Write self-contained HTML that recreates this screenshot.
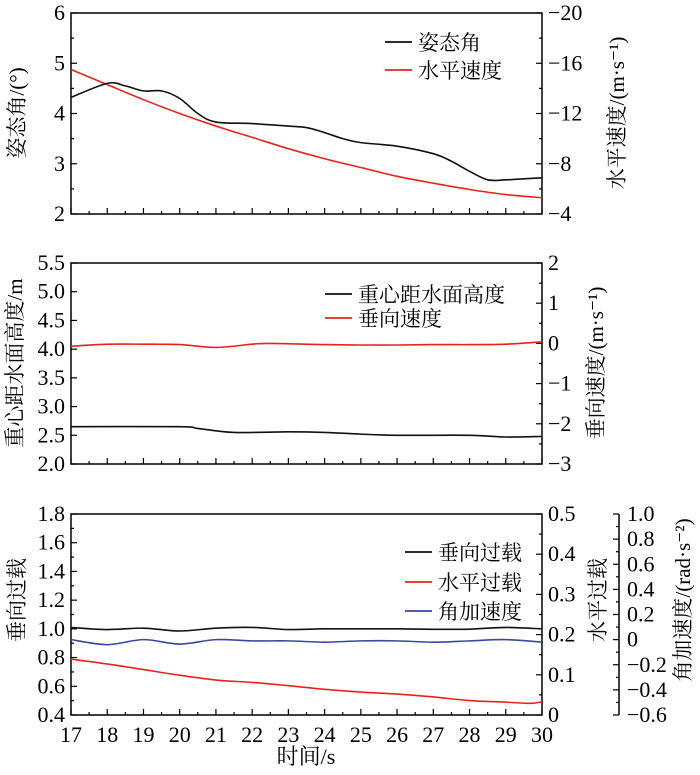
<!DOCTYPE html>
<html><head><meta charset="utf-8"><style>
body{margin:0;background:#fff}
</style></head><body>
<svg id="c" width="700" height="770" xmlns="http://www.w3.org/2000/svg" font-family="'Liberation Serif','Noto Serif CJK SC',serif"></svg>
<script>
const xs1=[17,18,18.5,19,19.5,20,20.5,21,22,23,23.5,24,24.5,25,26,27,27.5,28,28.5,29,29.5,30];
const attitude=[4.32,4.6,4.55,4.45,4.45,4.3,4.0,3.83,3.8,3.75,3.72,3.62,3.5,3.42,3.35,3.2,3.05,2.85,2.68,2.68,2.7,2.72];
const xs2=[17,18,19,20,21,22,23,24,25,26,27,28,29,30];
const hSpeed=[-15.5,-14.3,-13.1,-12.0,-11.0,-10.1,-9.2,-8.4,-7.7,-7.0,-6.45,-5.95,-5.55,-5.3];
const xsH=[17,20,20.5,21.5,23,24,25,26,28,29,30];
const height=[2.65,2.65,2.62,2.55,2.56,2.55,2.52,2.5,2.5,2.47,2.48];
const xsV=[17,18,19,20,21,22,22.5,24,25,26,27,28,29,30];
const vSpeed=[-0.07,-0.02,-0.02,-0.03,-0.1,-0.02,0.0,-0.03,-0.04,-0.04,-0.03,-0.03,-0.02,0.04];
const vLoad=[1.01,0.995,1.005,0.985,1.005,1.01,0.995,1.0,1.0,1.0,0.997,0.998,1.01,1.0];
const xsHL=[17,18,19,20,21,22,23,24,25,26,27,28,29,29.7,30];
const hLoad=[0.139,0.127,0.113,0.099,0.087,0.081,0.073,0.064,0.057,0.052,0.045,0.036,0.032,0.029,0.033];
const angAcc=[0.0,-0.04,0.0,-0.035,0.0,-0.01,-0.01,-0.02,-0.01,-0.01,-0.02,-0.01,0.0,-0.02];
const xTicks=[17,18,19,20,21,22,23,24,25,26,27,28,29,30];

const svg=document.getElementById('c');const NS='http://www.w3.org/2000/svg';
const FF="'Liberation Serif','Noto Serif CJK SC',serif";
function el(t,a,p){const e=document.createElementNS(NS,t);for(const k in a)e.setAttribute(k,a[k]);(p||svg).appendChild(e);return e;}
const L=71,R=542;
const X=v=>L+(v-17)/13*(R-L);
function lin(d0,d1,top,bot){return v=>bot-(v-d0)/(d1-d0)*(bot-top);}
function txt(s,x,y,o,p){const t=el('text',Object.assign({x:x,y:y,'font-size':21,'font-family':FF},o||{}),p);t.textContent=s;return t;}
function smooth(xa,ya,fx,fy,color,name){
  const p=xa.map((x,i)=>[fx(x),fy(ya[i])]);let d='M'+p[0][0]+','+p[0][1];
  for(let i=0;i<p.length-1;i++){const p0=p[i-1]||p[i],p1=p[i],p2=p[i+1],p3=p[i+2]||p2;
    d+=' C'+(p1[0]+(p2[0]-p0[0])/6)+','+(p1[1]+(p2[1]-p0[1])/6)+' '+(p2[0]-(p3[0]-p1[0])/6)+','+(p2[1]-(p3[1]-p1[1])/6)+' '+p2[0]+','+p2[1];}
  const e=el('path',{d:d,fill:'none',stroke:color,'stroke-width':1.6});
  
  
}
function panel(top,bot,lt,rt,showX){
  el('rect',{x:L,y:top,width:R-L,height:bot-top,fill:'none',stroke:'#000','stroke-width':1.5});
  for(let v=17;v<=30;v+=0.5){const x=X(v);const len=(v%1===0)?6:3;
    el('line',{x1:x,x2:x,y1:bot,y2:bot-len,stroke:'#000','stroke-width':1.2});}
  if(showX)xTicks.forEach(v=>txt(String(v),X(v),bot+27,{'text-anchor':'middle','font-size':22}));
  lt.forEach(([y,lab])=>{el('line',{x1:L,x2:L+(lab!==null?6:3),y1:y,y2:y,stroke:'#000','stroke-width':1.2});
    if(lab!==null)txt(lab,L-6,y+7,{'text-anchor':'end','font-size':22});});
  rt.forEach(([y,lab])=>{el('line',{x1:R,x2:R-(lab!==null?6:3),y1:y,y2:y,stroke:'#000','stroke-width':1.2});
    if(lab!==null)txt(lab,R+6,y+7,{'font-size':22});});
}
function vt(s,x,y,name){const t=txt(s,x,y,{'text-anchor':'middle','font-size':21,transform:'rotate(-90 '+x+' '+y+')'});
  
  }
function leg(x,y,color,s,name){const g=el('g',{});
  
  
  el('line',{x1:x,x2:x+27,y1:y,y2:y,stroke:color,'stroke-width':1.8},g);
  txt(s,x+33,y+8,{},g);}

// panel 1
let T=13,B=214;let yl=lin(2,6,T,B),yr=lin(-4,-20,T,B);
let lt=[],rt=[];for(let v=2;v<=6;v+=0.5)lt.push([yl(v),v%1===0?String(v):null]);
for(let v=-20;v<=-4;v+=2)rt.push([yr(v),v%4===0?'\u2212'+(-v):null]);
panel(T,B,lt,rt,false);
smooth(xs2,hSpeed,X,yr,'#e8231e','horizontal-speed-line');
smooth(xs1,attitude,X,yl,'#111','attitude-angle-line');
vt('姿态角/(°)',24,113,'y-axis-title-attitude');vt('水平速度/(m·s⁻¹)',624,113,'y2-axis-title-speed');
leg(385,42,'#111','姿态角','legend-attitude');leg(385,70,'#e8231e','水平速度','legend-hspeed');

// panel 2
T=263;B=464;yl=lin(2,5.5,T,B);yr=lin(-3,2,T,B);lt=[];rt=[];
for(let v=2;v<=5.501;v+=0.5)lt.push([yl(v),v.toFixed(1)]);
for(let v=-3;v<=2.01;v+=0.5)rt.push([yr(v),Math.abs(v%1)<1e-9?(v<0?'\u2212'+(-v):String(v)):null]);
panel(T,B,lt,rt,false);
smooth(xsV,vSpeed,X,yr,'#e8231e','vertical-speed-line');
smooth(xsH,height,X,yl,'#111','cg-height-line');
vt('重心距水面高度/m',22,363,'y-axis-title-height');vt('垂向速度/(m·s⁻¹)',603,363,'y2-axis-title-vspeed');
leg(325,294,'#111','重心距水面高度','legend-height');leg(325,318,'#e8231e','垂向速度','legend-vspeed');

// panel 3
T=514;B=715;yl=lin(0.4,1.8,T,B);yr=lin(0,0.5,T,B);const y3=lin(-0.6,1.0,T,B);lt=[];rt=[];
for(let v=0.4;v<=1.801;v+=0.1){const maj=Math.round(v*10)%2===0;lt.push([yl(v),maj?v.toFixed(1):null]);}
for(let v=0;v<=0.501;v+=0.05){const maj=Math.round(v*100)%10===0;rt.push([yr(v),maj?(v<0.001?'0':v.toFixed(1)):null]);}
panel(T,B,lt,rt,true);
const A3=619;el('line',{x1:A3,x2:A3,y1:T,y2:B,stroke:'#000','stroke-width':1.5});
for(let i=0;i<=16;i++){const v=-0.6+i*0.1;const y=y3(v);const maj=i%2===0;
  el('line',{x1:A3,x2:A3-(maj?6:3),y1:y,y2:y,stroke:'#000','stroke-width':1.2});
  if(maj){const r=Math.round(v*10)/10;txt(r===0?'0':(r<0?'\u2212'+(-r).toFixed(1):r.toFixed(1)),A3+8,y+7,{'font-size':22});}}
smooth(xs2,angAcc,X,y3,'#3c46a0','angular-acceleration-line');
smooth(xsHL,hLoad,X,yr,'#e8231e','horizontal-load-line');
smooth(xs2,vLoad,X,yl,'#111','vertical-load-line');
vt('垂向过载',24,600,'y-axis-title-vload');vt('水平过载',605,600,'y2-axis-title-hload');vt('角加速度/(rad·s⁻²)',690,600,'y3-axis-title-angacc');
leg(405,552,'#111','垂向过载','legend-vload');leg(405,582,'#e8231e','水平过载','legend-hload');leg(405,611,'#3c46a0','角加速度','legend-angacc');
const xt=txt('时间/s',306,764,{'text-anchor':'middle','font-size':22});


</script>
</body></html>
